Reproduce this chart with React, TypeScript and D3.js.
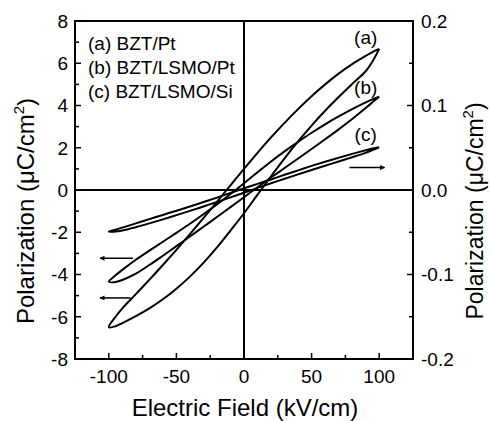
import React from "react";
import * as d3 from "d3";

const fieldDesc = [100, 95, 90, 80, 70, 60, 50, 40, 30, 20, 10, 0, -10, -20, -30, -40, -50, -60, -70, -80, -90, -95, -100];
const fieldAsc = [-100, -95, -90, -80, -70, -60, -50, -40, -30, -20, -10, 0, 10, 20, 30, 40, 50, 60, 70, 80, 90, 95, 100];

const loopAUpper = [6.68, 6.53, 6.35, 5.96, 5.51, 5.0, 4.44, 3.83, 3.18, 2.49, 1.76, 1.0, 0.22, -0.56, -1.33, -2.09, -2.83, -3.55, -4.25, -4.93, -5.6, -6.0, -6.5];
const loopALower = [-6.5, -6.45, -6.3, -5.97, -5.6, -5.17, -4.67, -4.1, -3.45, -2.72, -1.92, -1.1, -0.22, 0.65, 1.5, 2.3, 3.05, 3.75, 4.4, 5.02, 5.62, 6.08, 6.68];
const loopBUpper = [4.42, 4.29, 4.15, 3.83, 3.48, 3.11, 2.71, 2.28, 1.83, 1.35, 0.84, 0.32, -0.19, -0.68, -1.15, -1.6, -2.03, -2.45, -2.87, -3.3, -3.78, -4.04, -4.34];
const loopBLower = [-4.34, -4.35, -4.26, -3.96, -3.55, -3.11, -2.66, -2.2, -1.74, -1.28, -0.81, -0.34, 0.13, 0.59, 1.04, 1.49, 1.94, 2.4, 2.87, 3.36, 3.88, 4.15, 4.42];
const loopCUpper = [2.02, 1.96, 1.88, 1.71, 1.53, 1.34, 1.14, 0.93, 0.72, 0.5, 0.29, 0.08, -0.14, -0.36, -0.57, -0.78, -0.98, -1.18, -1.38, -1.58, -1.78, -1.88, -1.97];
const loopCLower = [-1.97, -1.97, -1.92, -1.76, -1.58, -1.39, -1.19, -0.99, -0.78, -0.57, -0.35, -0.13, 0.1, 0.32, 0.53, 0.74, 0.95, 1.15, 1.35, 1.55, 1.76, 1.89, 2.02];

const loopNames = ["(a)", "(b)", "(c)"];
const legendLabels = ["(a) BZT/Pt", "(b) BZT/LSMO/Pt", "(c) BZT/LSMO/Si"];
const loopLabelField = [90, 90, 90];
const loopLabelPol = [6.9, 4.55, 2.3];

const xMajor = [-100, -50, 0, 50, 100];
const xMinor = [-75, -25, 25, 75];
const yMajor = [-8, -6, -4, -2, 0, 2, 4, 6, 8];
const yMinor = [-7, -5, -3, -1, 1, 3, 5, 7];
const rMajor = [-0.2, -0.1, 0, 0.1, 0.2];
const rMinor = [-0.15, -0.05, 0.05, 0.15];

// arrows: [fromField, toField, polarization(left units)]
const arrowsData = [
  [78, 104, 1.06],
  [-82, -106.5, -3.23],
  [-84, -106.5, -5.11],
];

const W = 490;
const H = 421;
const L = 75, R = 413, T = 21, B = 359;
const FONT = "'Liberation Sans', Arial, Helvetica, sans-serif";

export default function App() {
  const x = d3.scaleLinear().domain([-125, 125]).range([L, R]);
  const y = d3.scaleLinear().domain([-8, 8]).range([B, T]);
  const yR = d3.scaleLinear().domain([-0.2, 0.2]).range([B, T]);

  const loops = [
    [loopAUpper, loopALower],
    [loopBUpper, loopBLower],
    [loopCUpper, loopCLower],
  ];
  const line = d3
    .line<[number, number]>()
    .x((d) => x(d[0]))
    .y((d) => y(d[1]))
    .curve(d3.curveCatmullRom.alpha(0.5));

  const loopPaths = loops.map(([up, lo]) => {
    const pts: [number, number][] = [];
    fieldDesc.forEach((e, i) => pts.push([e, up[i]]));
    fieldAsc.forEach((e, i) => {
      if (i > 0) pts.push([e, lo[i]]);
    });
    return line(pts) as string;
  });

  const majLen = 6;
  const minLen = 4;

  return (
    <svg
      width={W}
      height={H}
      style={{ position: "absolute", left: 0, top: 0, background: "#fff" }}
      fontFamily={FONT}
    >
      <defs>
        <marker id="ah" viewBox="0 0 10 10" refX="9" refY="5" markerWidth="7" markerHeight="5" orient="auto" markerUnits="userSpaceOnUse">
          <path d="M0,0 L10,5 L0,10 z" fill="#000" />
        </marker>
      </defs>
      {/* zero lines */}
      <line x1={x(0)} x2={x(0)} y1={T} y2={B} stroke="#000" strokeWidth={2} />
      <line x1={L} x2={R} y1={y(0)} y2={y(0)} stroke="#000" strokeWidth={2} />

      {/* loops */}
      {loopPaths.map((d, i) => (
        <path key={i} d={d} fill="none" stroke="#000" strokeWidth={2} strokeLinejoin="round" />
      ))}

      {/* frame */}
      <rect x={L} y={T} width={R - L} height={B - T} fill="none" stroke="#000" strokeWidth={2} />

      {/* bottom ticks */}
      {xMajor.map((v) => (
        <line key={"xm" + v} x1={x(v)} x2={x(v)} y1={B} y2={B - majLen} stroke="#000" strokeWidth={1.5} />
      ))}
      {xMinor.map((v) => (
        <line key={"xn" + v} x1={x(v)} x2={x(v)} y1={B} y2={B - minLen} stroke="#000" strokeWidth={1.5} />
      ))}
      {xMajor.map((v) => (
        <text key={"xl" + v} x={x(v)} y={383} fontSize={19} textAnchor="middle" fill="#000">
          {v}
        </text>
      ))}

      {/* left ticks */}
      {yMajor.map((v) => (
        <line key={"ym" + v} x1={L} x2={L + majLen} y1={y(v)} y2={y(v)} stroke="#000" strokeWidth={1.5} />
      ))}
      {yMinor.map((v) => (
        <line key={"yn" + v} x1={L} x2={L + minLen} y1={y(v)} y2={y(v)} stroke="#000" strokeWidth={1.5} />
      ))}
      {yMajor.map((v) => (
        <text key={"yl" + v} x={68} y={y(v)} dy="0.36em" fontSize={19} textAnchor="end" fill="#000">
          {v}
        </text>
      ))}

      {/* right ticks */}
      {rMajor.map((v) => (
        <line key={"rm" + v} x1={R} x2={R - majLen} y1={yR(v)} y2={yR(v)} stroke="#000" strokeWidth={1.5} />
      ))}
      {rMinor.map((v) => (
        <line key={"rn" + v} x1={R} x2={R - minLen} y1={yR(v)} y2={yR(v)} stroke="#000" strokeWidth={1.5} />
      ))}
      {rMajor.map((v) => (
        <text key={"rl" + v} x={421} y={yR(v)} dy="0.36em" fontSize={19} textAnchor="start" fill="#000">
          {d3.format(".1f")(v).replace("−", "-")}
        </text>
      ))}

      {/* loop labels */}
      {loopNames.map((n, i) => (
        <text key={n} x={x(loopLabelField[i])} y={y(loopLabelPol[i])} fontSize={19} textAnchor="middle" fill="#000">
          {n}
        </text>
      ))}

      {/* legend */}
      {legendLabels.map((t, i) => (
        <text key={t} x={88} y={50 + i * 24} fontSize={19} fill="#000">
          {t}
        </text>
      ))}

      {/* arrows */}
      {arrowsData.map((a, i) => (
        <line
          key={"ar" + i}
          x1={x(a[0])}
          x2={x(a[1])}
          y1={y(a[2])}
          y2={y(a[2])}
          stroke="#000"
          strokeWidth={1.5}
          markerEnd="url(#ah)"
        />
      ))}

      {/* axis titles */}
      <text x={(L + R) / 2 + 1} y={416} fontSize={24} textAnchor="middle" fill="#000">
        Electric Field (kV/cm)
      </text>
      <text transform={`translate(34,${211}) rotate(-90)`} fontSize={24} textAnchor="middle" fill="#000">
        Polarization (μC/cm<tspan fontSize={15} dy={-10}>2</tspan><tspan dy={10}>)</tspan>
      </text>
      <text transform={`translate(483,${211}) rotate(-90)`} fontSize={23} textAnchor="middle" fill="#000">
        Polarization (μC/cm<tspan fontSize={15} dy={-10}>2</tspan><tspan dy={10}>)</tspan>
      </text>
    </svg>
  );
}
